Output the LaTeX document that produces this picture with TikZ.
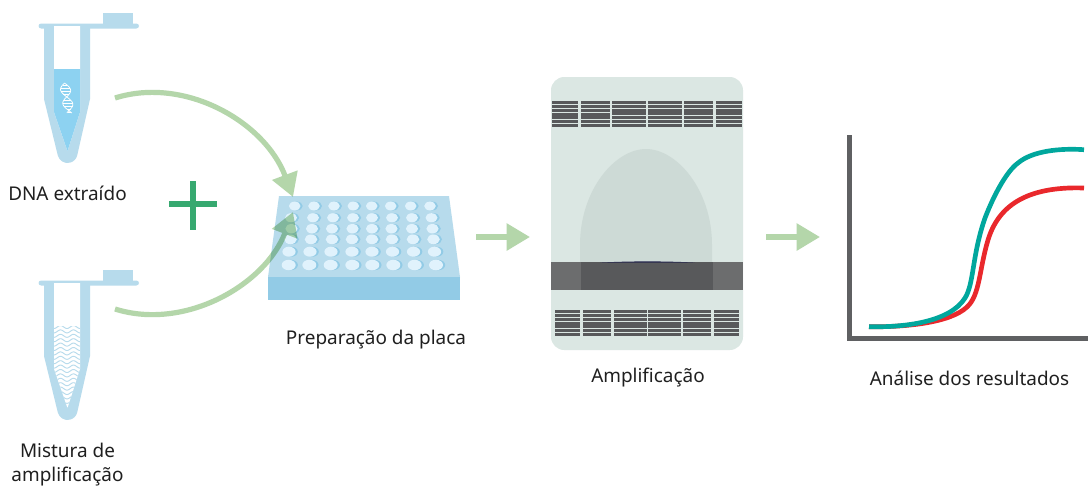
\documentclass[tikz,border=0pt]{standalone}
\usepackage{fontspec}
\setmainfont{Noto Sans}
\usetikzlibrary{arrows.meta}
\definecolor{tubeblue}{HTML}{B7DBEC}
\definecolor{liquid}{HTML}{8DD2F1}
\definecolor{platefront}{HTML}{92CBE6}
\definecolor{wellcol}{HTML}{E0F2FC}
\definecolor{arrowgreen}{HTML}{B4D6AA}
\definecolor{plusgreen}{HTML}{37A970}
\definecolor{machinebg}{HTML}{DBE7E3}
\definecolor{domecol}{HTML}{CDDAD6}
\definecolor{darkband}{HTML}{58595B}
\definecolor{bandend}{HTML}{6C6D6E}
\definecolor{axiscol}{HTML}{5F6062}
\definecolor{tealcurve}{HTML}{00A79D}
\definecolor{redcurve}{HTML}{E9282C}
\tikzset{
  label text/.style={font=\fontsize{14.2}{18}\selectfont, text=black!88, align=center, inner sep=0pt},
  flow arrow/.style={draw=arrowgreen, line width=3.9pt, -{Triangle[length=17.5pt,width=19.5pt]}},
  straight arrow/.style={draw=arrowgreen, line width=4.2pt, -{Triangle[length=17.5pt,width=19.5pt]}},
  curve line/.style={line width=3.5pt, line join=round},
  stripe/.style={fill=darkband, draw=none}
}
\newcommand{\tubeshell}{%
  \fill[tubeblue,rounded corners=2pt] (38.5,23.5) rectangle (139,28.5);
  \fill[tubeblue] (103,13) rectangle (133,24);
  \fill[tubeblue] (44,26) -- (44,99) -- (57.8,155.4) arc[start angle=166,end angle=14,radius=10] -- (90,99) -- (90,26) -- cycle;
  \fill[white] (54,26) -- (54,112) -- (67.5,151) -- (80,112) -- (80,26) -- cycle;
}
\newcommand{\stripesrow}[3]{% x1 x2 list of y pairs
  \foreach \ya/\yb in {#3} {\fill[stripe] (#1,\ya) rectangle (#2,\yb);}
}
\begin{document}
\begin{tikzpicture}[x=0.75pt,y=-0.75pt]
\useasboundingbox (0,0) rectangle (1088,487);
\fill[white] (0,0) rectangle (1088,487);

% tube 1
\tubeshell
\fill[liquid] (54,69) -- (54,112) -- (67.5,151) -- (80,112) -- (80,69) -- cycle;
\draw[white,line width=0.55pt,smooth] plot[domain=0:30,samples=40] ({64.5+0.16*\x-5*sin(\x*13)},{83+\x});
\draw[white,line width=0.55pt,smooth] plot[domain=0:30,samples=40] ({64.5+0.16*\x+5*sin(\x*13)},{83+\x});
\foreach \t in {2,5,8,11,17,20,23,26,29}
  \draw[white,line width=0.5pt] ({64.5+0.16*\t-5*sin(\t*13)},{83+\t}) -- ({64.5+0.16*\t+5*sin(\t*13)},{83+\t});

% tube 2
\begin{scope}[shift={(0,257)}]
\tubeshell
\begin{scope}
\clip (54,69) -- (54,112) -- (67.5,151) -- (80,112) -- (80,69) -- cycle;
\foreach \k in {0,...,18}
  \draw[tubeblue,line width=0.7pt] plot[domain=54:80,samples=40] (\x,{70+4.4*\k+1.5*sin((\x-54)*27.7+90)});
\end{scope}
\end{scope}

% plus
\fill[plusgreen] (169,201) rectangle (217,207);
\fill[plusgreen] (190,181) rectangle (196,230);

% plate
\fill[tubeblue] (279,196) -- (449,196) -- (460,277) -- (268,277) -- cycle;
\fill[platefront] (268,277) rectangle (460,300);
\foreach \yy/\rx/\ry/\xa/\xb/\xc/\xd/\xe/\xf/\xg/\xh in {
 206/5.8/4.4/294.7/314/334/353.3/371.7/390.7/410.7/430,
 217.7/6/4.5/291/313/333/353/372/392/412/431.5,
 228.7/6.1/4.7/291.5/312/332/352.5/372/391.5/412/432.5,
 239.3/6.3/4.8/290.5/311/332/352/372/392/413/433.5,
 251.7/6.6/5/289/310/331/352/372/392.5/413.5/434.5,
 265/7/5.2/288.7/309.3/330.7/352.3/372.3/393.3/414.7/436}{
  \foreach \xx in {\xa,\xb,\xc,\xd,\xe,\xf,\xg,\xh}{
    \fill[platefront] ({\xx+2.2},\yy) ellipse[x radius=\rx*0.75pt,y radius=\ry*0.75pt];
    \fill[wellcol] (\xx,\yy) ellipse[x radius=\rx*0.75pt,y radius=\ry*0.75pt];
  }
}

% machine
\fill[machinebg,rounded corners=10pt] (551,77) rectangle (743,350);
\fill[domecol] (580,262) -- (580,245) .. controls (580,190) and (615,149) .. (646,149) .. controls (677,149) and (712,190) .. (712,245) -- (712,262) -- cycle;
\fill[bandend] (551,262) rectangle (743,290);
\fill[darkband] (581,262) rectangle (713,290);
\fill[black!75!blue!60!darkband] (600,262.6) .. controls (630,261) and (665,261) .. (695,262.6) -- cycle;
\foreach \xa/\xb in {552/578,581/610}{
  \stripesrow{\xa}{\xb}{101/104.3,105.3/108,109/112,113/119,120/123,124/127}
}
\foreach \xa/\xb in {612/646,648/682,684/713,716/742}{
  \stripesrow{\xa}{\xb}{101/104.3,105.3/108,109/115,116/119,120/123,124/127}
}
\foreach \xa/\xb in {555/580,583/611.3,614/647,648/681,683/711,714/739}{
  \stripesrow{\xa}{\xb}{310/313,314/317,318/321,322/328,329/332,333/336}
}

% chart
\draw[axiscol,line width=3.5pt,miter limit=10] (849.5,135) -- (849.5,338.5) -- (1088,338.5);
\draw[redcurve,curve line] (869,326.7) .. controls (905,327.2) and (950,323) .. (967,307) .. controls (980,295) and (979,270) .. (988,240) .. controls (998,207) and (1025,186) .. (1084,188);
\draw[tealcurve,curve line] (869,326.7) .. controls (905,327.5) and (950,322) .. (965,298) .. controls (974,284) and (972,255) .. (985,218) .. controls (995,192) and (1008,170) .. (1018,163) .. controls (1032,151) and (1060,148) .. (1084,149.7);

% connectors
\coordinate (dnaout) at (115,98);
\coordinate (mixout) at (115,309);
\coordinate (plateinA) at (293,197);
\coordinate (plateinB) at (293,212);
\coordinate (plateout) at (476,237);
\coordinate (ampin) at (530,237);
\coordinate (ampout) at (766,237);
\coordinate (chartin) at (820,237);
\begin{scope}[transparency group,blend mode=multiply]
\draw[flow arrow] (dnaout) .. controls (185,76) and (265,122) .. (plateinA);
\end{scope}
\begin{scope}[transparency group,blend mode=multiply]
\draw[flow arrow] (mixout) .. controls (185,331) and (265,285) .. (plateinB);
\end{scope}
\draw[straight arrow] (plateout) -- (ampin);
\draw[straight arrow] (ampout) -- (chartin);

% labels
\node[label text] (l1) at (67.5,193) {DNA extraído};
\node[label text] (l2) at (67.5,465) {Mistura de\\amplificação};
\node[label text] (l3) at (376,340) {Preparação da placa};
\node[label text] (l4) at (648,378) {Amplificação};
\node[label text] (l5) at (969.5,378) {Análise dos resultados};
\end{tikzpicture}
\end{document}
